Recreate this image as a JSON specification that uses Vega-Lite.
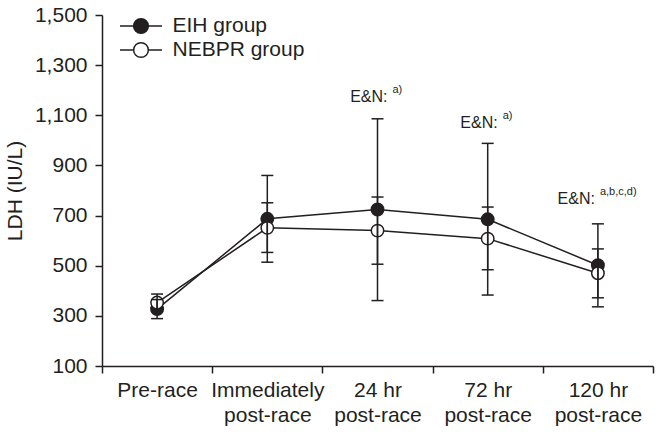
{
  "$schema": "https://vega.github.io/schema/vega-lite/v6.json",
  "width": 551,
  "height": 351,
  "autosize": {"type": "none"},
  "padding": {"left": 102, "top": 15, "right": 10, "bottom": 68},
  "background": "white",
  "config": {
    "view": {"stroke": null},
    "font": "Liberation Sans",
    "axis": {
      "domainColor": "#231f20",
      "tickColor": "#231f20",
      "labelColor": "#231f20",
      "titleColor": "#231f20",
      "domainWidth": 1.5,
      "tickWidth": 1.5,
      "labelFontSize": 21,
      "titleFontSize": 21,
      "titleFontWeight": "normal",
      "grid": false
    }
  },
  "datasets": {
    "ldh": [
      {"time": "Pre-race", "group": "EIH group", "mean": 327, "low": 289, "high": 365},
      {"time": "Pre-race", "group": "NEBPR group", "mean": 353, "low": 319, "high": 387},
      {"time": "Immediately post-race", "group": "EIH group", "mean": 687, "low": 514, "high": 860},
      {"time": "Immediately post-race", "group": "NEBPR group", "mean": 651, "low": 553, "high": 751},
      {"time": "24 hr post-race", "group": "EIH group", "mean": 724, "low": 361, "high": 1086},
      {"time": "24 hr post-race", "group": "NEBPR group", "mean": 640, "low": 506, "high": 774},
      {"time": "72 hr post-race", "group": "EIH group", "mean": 685, "low": 383, "high": 988},
      {"time": "72 hr post-race", "group": "NEBPR group", "mean": 608, "low": 484, "high": 734},
      {"time": "120 hr post-race", "group": "EIH group", "mean": 502, "low": 336, "high": 667},
      {"time": "120 hr post-race", "group": "NEBPR group", "mean": 470, "low": 372, "high": 567}
    ],
    "notes": [
      {"time": "24 hr post-race", "y": 1173, "label": "E&N:", "sup": "a)", "pos": "mid"},
      {"time": "72 hr post-race", "y": 1070, "label": "E&N:", "sup": "a)", "pos": "mid"},
      {"time": "120 hr post-race", "y": 765, "label": "E&N:", "sup": "a,b,c,d)", "pos": "end"}
    ]
  },
  "encoding": {
    "x": {
      "field": "time",
      "type": "nominal",
      "sort": ["Pre-race", "Immediately post-race", "24 hr post-race", "72 hr post-race", "120 hr post-race"],
      "scale": {"type": "band", "paddingInner": 0, "paddingOuter": 0},
      "axis": {
        "title": null,
        "labelAngle": 0,
        "tickBand": "extent",
        "tickSize": 7,
        "labelPadding": 6,
        "labelLineHeight": 25,
        "labelBaseline": "top",
        "labelExpr": "indexof(datum.label, ' post-race') > 0 ? [slice(datum.label, 0, indexof(datum.label, ' post-race')), 'post-race'] : datum.label"
      }
    }
  },
  "layer": [
    {
      "data": {"name": "ldh"},
      "mark": {"type": "line", "color": "#231f20", "strokeWidth": 1.5},
      "encoding": {
        "y": {
          "field": "mean",
          "type": "quantitative",
          "scale": {"domain": [100, 1500], "nice": false, "zero": false},
          "axis": {
            "title": "LDH (IU/L)",
            "values": [100, 300, 500, 700, 900, 1100, 1300, 1500],
            "format": ",d",
            "tickSize": 7,
            "labelPadding": 8,
            "titlePadding": 9
          }
        },
        "detail": {"field": "group"}
      }
    },
    {
      "data": {"name": "ldh"},
      "mark": {"type": "point", "shape": "circle", "filled": true, "size": 155, "stroke": "#231f20", "strokeWidth": 1.5, "opacity": 1},
      "encoding": {
        "y": {"field": "mean", "type": "quantitative"},
        "fill": {
          "field": "group",
          "type": "nominal",
          "scale": {"domain": ["EIH group", "NEBPR group"], "range": ["#231f20", "white"]},
          "legend": {
            "title": null,
            "orient": "none",
            "legendX": 27.5,
            "legendY": -0.5,
            "padding": 0,
            "symbolType": "M-2,0H-0.7M0.7,0H2M-0.7,0A0.7,0.7 0 1,0 0.7,0A0.7,0.7 0 1,0 -0.7,0Z",
            "symbolSize": 441,
            "symbolStrokeColor": "#231f20",
            "symbolStrokeWidth": 1.5,
            "symbolOpacity": 1,
            "labelFontSize": 21,
            "labelColor": "#231f20",
            "labelOffset": 20,
            "rowPadding": 2
          }
        }
      }
    },
    {
      "data": {"name": "ldh"},
      "mark": {"type": "rule", "color": "#231f20", "strokeWidth": 1.5},
      "encoding": {
        "y": {"field": "low", "type": "quantitative"},
        "y2": {"field": "high"}
      }
    },
    {
      "data": {"name": "ldh"},
      "mark": {"type": "tick", "orient": "horizontal", "color": "#231f20", "size": 12, "thickness": 1.5, "opacity": 1},
      "encoding": {
        "y": {"field": "low", "type": "quantitative"}
      }
    },
    {
      "data": {"name": "ldh"},
      "mark": {"type": "tick", "orient": "horizontal", "color": "#231f20", "size": 12, "thickness": 1.5, "opacity": 1},
      "encoding": {
        "y": {"field": "high", "type": "quantitative"}
      }
    },
    {
      "data": {"name": "notes"},
      "transform": [{"filter": "datum.pos == 'mid'"}],
      "mark": {"type": "text", "align": "right", "baseline": "middle", "dx": 10, "fontSize": 16, "color": "#231f20"},
      "encoding": {
        "y": {"field": "y", "type": "quantitative"},
        "text": {"field": "label"}
      }
    },
    {
      "data": {"name": "notes"},
      "transform": [{"filter": "datum.pos == 'mid'"}],
      "mark": {"type": "text", "align": "left", "baseline": "middle", "dx": 15, "dy": -7, "fontSize": 11, "color": "#231f20"},
      "encoding": {
        "y": {"field": "y", "type": "quantitative"},
        "text": {"field": "sup"}
      }
    },
    {
      "data": {"name": "notes"},
      "transform": [{"filter": "datum.pos == 'end'"}],
      "mark": {"type": "text", "align": "right", "baseline": "middle", "dx": -3, "fontSize": 16, "color": "#231f20"},
      "encoding": {
        "y": {"field": "y", "type": "quantitative"},
        "text": {"field": "label"}
      }
    },
    {
      "data": {"name": "notes"},
      "transform": [{"filter": "datum.pos == 'end'"}],
      "mark": {"type": "text", "align": "left", "baseline": "middle", "dx": 2, "dy": -7, "fontSize": 11, "color": "#231f20"},
      "encoding": {
        "y": {"field": "y", "type": "quantitative"},
        "text": {"field": "sup"}
      }
    }
  ]
}
